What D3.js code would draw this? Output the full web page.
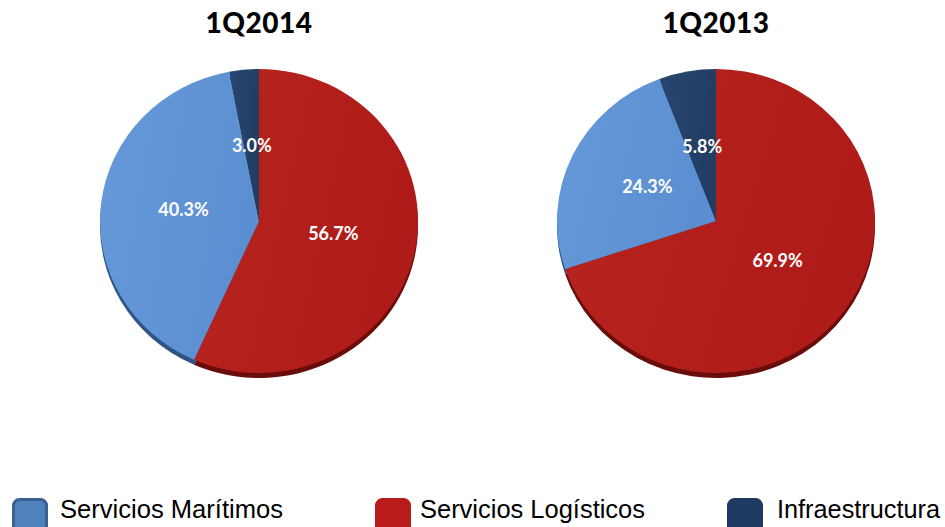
<!DOCTYPE html>
<html>
<head>
<meta charset="utf-8">
<script src="https://cdnjs.cloudflare.com/ajax/libs/d3/7.8.5/d3.min.js"></script>
<style>
  body{margin:0;background:#fff;}
  svg{display:block;}
</style>
</head>
<body>
<script>
// chart data
var categories=["Servicios Marítimos","Servicios Logísticos","Infraestructura"];
var periods=["1Q2014","1Q2013"];
var values2014=[40.3,56.7,3.0];
var values2013=[24.3,69.9,5.8];
// clockwise from 12 o'clock
var sliceOrder=[1,0,2];

var width=945,height=527;
var rx=159,ry=152,cy=221,depth=5,labelR=76;
var faceColors=["#5b8fd1","#ae1b18","#213d62"];
var lightColors=["#6699d8","#b8241f","#284670"];
var rimColors=["#2f5485","#6a0c0a","#142740"];

var svg=d3.select("body").append("svg")
	.attr("width",width)
	.attr("height",height);

var defs=svg.append("defs");
faceColors.forEach(function(c,i){
	var g=defs.append("linearGradient").attr("id","grad"+i)
		.attr("x1","0").attr("y1","0").attr("x2","1").attr("y2","0.3");
	g.append("stop").attr("offset","0%").attr("stop-color",lightColors[i]);
	g.append("stop").attr("offset","100%").attr("stop-color",c);
});

var xPos=d3.scalePoint().domain(periods).range([259,716]);
var pie=d3.pie().sort(null).value(function(d){return d.v;});
var arc=d3.arc().innerRadius(0).outerRadius(rx);
var labelArc=d3.arc().innerRadius(labelR).outerRadius(labelR);

var allValues=[values2014,values2013];

periods.forEach(function(p,pi){
	var vals=allValues[pi];
	var rows=sliceOrder.map(function(ci){return {c:ci,v:vals[ci]};});
	var slices=pie(rows);
	var cx=xPos(p);

	//title
	svg.append("text")
		.attr("x",cx)
		.attr("y",33)
		.attr("text-anchor","middle")
		.attr("font-family","Lato, 'Open Sans', sans-serif")
		.attr("font-weight","900")
		.attr("font-size","28px")
		.attr("letter-spacing","0.5px")
		.text(p);

	//rim below the face
	var rim=svg.append("g")
		.attr("transform","translate("+cx+","+(cy+depth)+") scale(1,"+(ry/rx)+")");
	rim.selectAll("path").data(slices).enter()
		.append("path")
		.attr("d",arc)
		.attr("fill",function(d){return rimColors[d.data.c];});

	var face=svg.append("g")
		.attr("transform","translate("+cx+","+cy+") scale(1,"+(ry/rx)+")");
	face.selectAll("path").data(slices).enter()
		.append("path")
		.attr("d",arc)
		.attr("fill",function(d){return "url(#grad"+d.data.c+")";});

	//labels
	svg.selectAll("text.lbl"+pi).data(slices).enter()
		.append("text")
		.attr("class","lbl"+pi)
		.attr("x",function(d){return cx+labelArc.centroid(d)[0];})
		.attr("y",function(d){return cy-3+labelArc.centroid(d)[1]*ry/rx;})
		.attr("dy","0.36em")
		.attr("text-anchor","middle")
		.attr("font-family","Lato, 'Open Sans', sans-serif")
		.attr("font-weight","bold")
		.attr("font-size","18px")
		.attr("fill","#fff")
		.text(function(d){return d.data.v.toFixed(1)+"%";});
});

//legend
var legendX=[12,375,727];
var legendFill=["#4f81bd","#b81c1a","#1f3a62"];
var legendStroke=["#3a6190","#b81c1a","#1f3a62"];
var leg=svg.selectAll("g.legend").data(categories).enter()
	.append("g")
	.attr("class","legend")
	.attr("transform",function(d,i){return "translate("+legendX[i]+",498)";});
leg.append("rect")
	.attr("x",1.5).attr("y",1.5)
	.attr("width",33).attr("height",33)
	.attr("rx",6)
	.attr("fill",function(d,i){return legendFill[i];})
	.attr("stroke",function(d,i){return legendStroke[i];})
	.attr("stroke-width",3);
leg.append("text")
	.attr("x",function(d,i){return i==0?48:(i==1?45:50);})
	.attr("y",20)
	.attr("font-family","'Liberation Sans', Arial, sans-serif")
	.attr("font-size","26px")
	.attr("fill","#000")
	.attr("textLength",function(d,i){return [223,225,163][i];})
	.attr("lengthAdjust","spacingAndGlyphs")
	.text(function(d){return d;});
</script>
</body>
</html>
